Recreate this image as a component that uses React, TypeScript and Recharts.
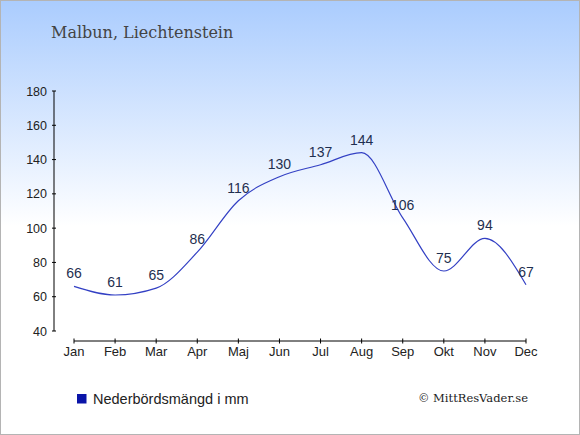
import React from "react";
import { LabelList, Line, LineChart, ReferenceLine, XAxis, YAxis } from "recharts";

const months = ["Jan", "Feb", "Mar", "Apr", "Maj", "Jun", "Jul", "Aug", "Sep", "Okt", "Nov", "Dec"];
const precipitation = [66, 61, 65, 86, 116, 130, 137, 144, 106, 75, 94, 67];
const yTicks = [40, 60, 80, 100, 120, 140, 160, 180];

const title = "Malbun, Liechtenstein";
const legendLabel = "Nederbördsmängd i mm";
const credit = "© MittResVader.se";

const data = months.map((month, i) => ({ month, value: precipitation[i] }));

const sans = '"Liberation Sans", Arial, sans-serif';
const serif = '"DejaVu Serif", serif';

function YTick({ x, y, payload }: any) {
  return (
    <g>
      <line x1={x - 2} x2={x + 2} y1={y} y2={y} stroke="#000" />
      <text x={x - 7} y={y} dy="0.36em" textAnchor="end" fontSize={12.5} fill="#222" fontFamily={sans}>
        {payload.value}
      </text>
    </g>
  );
}

function XTick({ x, y, payload }: any) {
  return (
    <g>
      <line x1={x} x2={x} y1={y + 7.5} y2={y + 12.5} stroke="#000" />
      <text x={x} y={y + 25} textAnchor="middle" fontSize={13} fill="#222" fontFamily={sans}>
        {payload.value}
      </text>
    </g>
  );
}

// x axis line sits a bit below the lowest y tick, from Jan to Dec only
function AxisLine(props: any) {
  return <line x1={props.x1} x2={props.x2} y1={props.y1 + 10} y2={props.y2 + 10} stroke="#000" />;
}

export default function App() {
  return (
    <div
      style={{
        position: "absolute",
        top: 0,
        left: 0,
        width: 580,
        height: 435,
        background: "linear-gradient(to bottom, #aaccfe 0%, #ffffff 52%, #ffffff 100%)",
        boxShadow: "inset 0 0 0 1px #b4b4b4",
      }}
    >
      <div style={{ position: "absolute", top: 0, left: 0 }}>
        <LineChart width={580} height={435} data={data} margin={{ top: 91, right: 34, bottom: 74, left: 0 }}>
          <XAxis
            dataKey="month"
            height={30}
            padding={{ left: 20, right: 20 }}
            axisLine={false}
            tickLine={false}
            tickSize={0}
            tickMargin={0}
            interval={0}
            tick={<XTick />}
          />
          <YAxis
            type="number"
            width={54}
            domain={[40, 180]}
            ticks={yTicks}
            interval={0}
            axisLine={{ stroke: "#000" }}
            tickLine={false}
            tickSize={0}
            tickMargin={0}
            tick={<YTick />}
          />
          <ReferenceLine
            segment={[
              { x: months[0], y: yTicks[0] },
              { x: months[months.length - 1], y: yTicks[0] },
            ]}
            shape={AxisLine}
          />
          <Line
            type="monotone"
            dataKey="value"
            stroke="#3340c4"
            strokeWidth={1.2}
            dot={false}
            activeDot={false}
            isAnimationActive={false}
          >
            <LabelList dataKey="value" position="top" offset={8} fill="#1f2f50" fontSize={14} fontFamily={sans} />
          </Line>
        </LineChart>
      </div>
      <svg width={580} height={435} style={{ position: "absolute", top: 0, left: 0, pointerEvents: "none" }}>
        <text x={51} y={38} fontSize={16} fill="#444" fontFamily={serif}>
          {title}
        </text>
        <rect x={77} y={394} width={9.5} height={9.5} fill="#0a14a8" />
        <text x={93} y={403.5} fontSize={14.5} fill="#222" fontFamily={sans}>
          {legendLabel}
        </text>
        <text x={528} y={402} textAnchor="end" fontSize={11.5} fill="#222" fontFamily={serif}>
          {credit}
        </text>
      </svg>
    </div>
  );
}
